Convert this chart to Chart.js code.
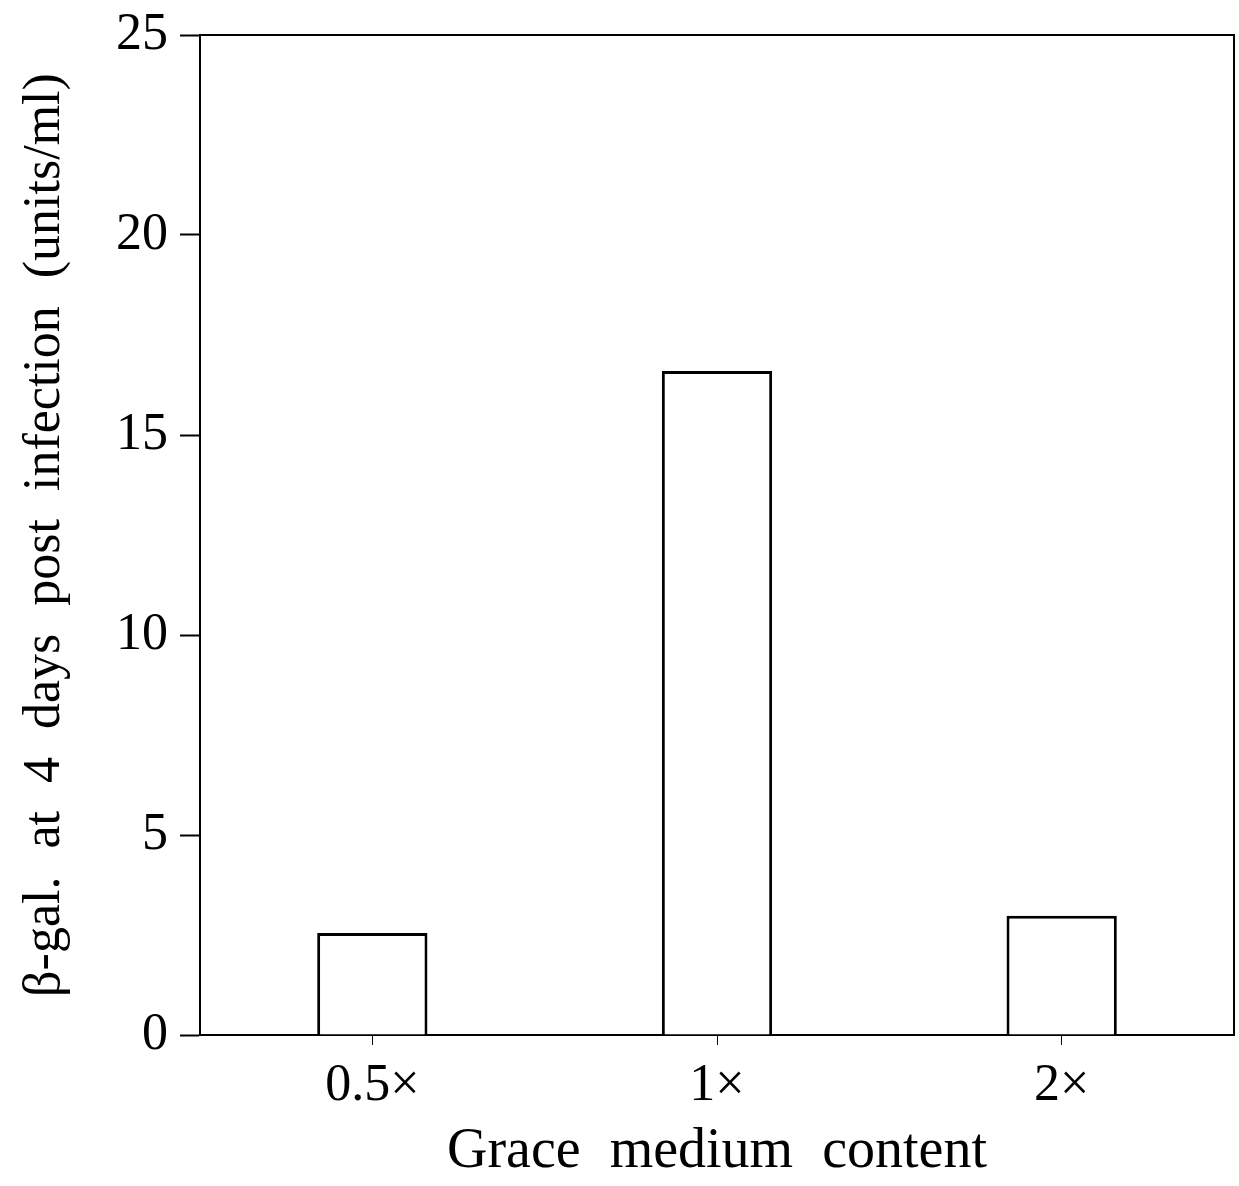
<!DOCTYPE html>
<html>
<head>
<meta charset="utf-8">
<script src="https://cdn.jsdelivr.net/npm/chart.js@4.4.1/dist/chart.umd.min.js"></script>
<style>
  html, body { margin: 0; padding: 0; background: #fff; }
  #wrap { width: 1239px; height: 1186px; }
</style>
</head>
<body>
<div id="wrap"><canvas id="betaGalChart" width="1239" height="1186"></canvas></div>
<script>
// data
const mediumLabels = ['0.5\u00d7', '1\u00d7', '2\u00d7'];
const betaGalValues = [2.55, 16.6, 2.98];
const yTicks = [0, 5, 10, 15, 20, 25];

const serif = '"Liberation Serif", "DejaVu Serif", serif';

// the scanned figure has wide gaps between words
const spacingPlugin = {
    id: 'spacing',
    beforeLayout(chart) { chart.ctx.wordSpacing = '15px'; },
    beforeDraw(chart) { chart.ctx.wordSpacing = '15px'; }
};

// frame on top and right side of the plot area
const framePlugin = {
    id: 'frame',
    afterDraw(chart) {
        const { ctx, chartArea } = chart;
        ctx.save();
        ctx.strokeStyle = '#000';
        ctx.lineWidth = 2;
        ctx.beginPath();
        ctx.moveTo(chartArea.left, chartArea.top);
        ctx.lineTo(chartArea.right, chartArea.top);
        ctx.lineTo(chartArea.right, chartArea.bottom);
        ctx.stroke();
        ctx.restore();
    }
};

document.addEventListener('DOMContentLoaded', function () {
    const ctx = document.getElementById('betaGalChart').getContext('2d');

    new Chart(ctx, {
        type: 'bar',
        data: {
            labels: mediumLabels,
            datasets: [{
                data: betaGalValues,
                backgroundColor: '#fff',
                borderColor: '#000',
                borderWidth: 3,
                borderSkipped: 'bottom',
                barPercentage: 0.32,
                categoryPercentage: 1.0
            }]
        },
        options: {
            responsive: false,
            animation: false,
            layout: { padding: { top: 35, right: 5, left: 0, bottom: 0 } },
            plugins: {
                legend: { display: false },
                tooltip: { enabled: false }
            },
            scales: {
                x: {
                    offset: true,
                    grid: {
                        offset: false,
                        drawOnChartArea: false,
                        tickLength: 10,
                        tickColor: '#000',
                        tickWidth: 1
                    },
                    border: { display: true, color: '#000', width: 2 },
                    ticks: {
                        color: '#000',
                        padding: 10,
                        font: { family: serif, size: 52 }
                    },
                    title: {
                        display: true,
                        text: 'Grace medium content',
                        color: '#000',
                        font: { family: serif, size: 56 },
                        padding: { top: 12, bottom: 0 }
                    },
                    afterFit(scale) {
                        scale.height = 151;
                        scale.paddingLeft = 0;
                        scale.paddingRight = 0;
                    }
                },
                y: {
                    min: 0,
                    max: 25,
                    afterBuildTicks(scale) {
                        scale.ticks = yTicks.map(v => ({ value: v }));
                    },
                    grid: {
                        drawOnChartArea: false,
                        tickLength: 20,
                        tickColor: '#000',
                        tickWidth: 2
                    },
                    border: { display: true, color: '#000', width: 2 },
                    ticks: {
                        color: '#000',
                        padding: 12,
                        font: { family: serif, size: 52 }
                    },
                    title: {
                        display: true,
                        text: '\u03b2-gal. at 4 days post infection (units/ml)',
                        color: '#000',
                        font: { family: serif, size: 52 },
                        padding: { top: 14, bottom: 0 }
                    },
                    afterFit(scale) {
                        scale.width = 200;
                        scale.paddingTop = 0;
                        scale.paddingBottom = 0;
                    }
                }
            }
        },
        plugins: [spacingPlugin, framePlugin]
    });
});
</script>
</body>
</html>
